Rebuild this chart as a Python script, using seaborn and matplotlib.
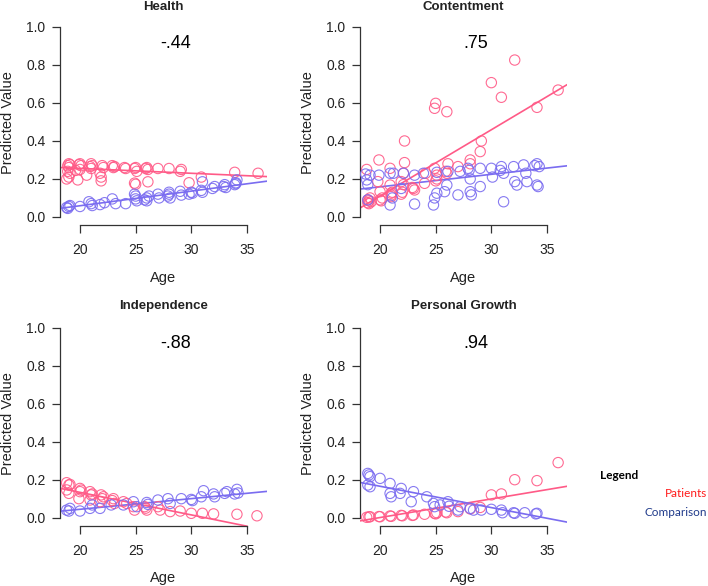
import matplotlib
matplotlib.use("Agg")
import matplotlib.pyplot as plt
import numpy as np
import pandas as pd
import seaborn as sns

# panel titles and the correlation printed in each
titles = ["Health", "Contentment", "Independence", "Personal Growth"]
corr_labels = ["-.44", ".75", "-.88", ".94"]

# regression lines (intercept, slope) per panel: patients / comparison
pat_b = [0.307, -0.588, 0.371, -0.195]
pat_m = [-0.00257, 0.0349, -0.01188, 0.00979]
cmp_b = [-0.095, 0.027, -0.068, 0.390]
cmp_m = [0.0077, 0.00658, 0.00561, -0.01123]

# Health
health_pat_age = [19.0, 18.9, 19.1, 19.0, 18.9, 19.1, 19.0, 18.8, 19.6, 20.0, 20.1, 19.9, 20.0, 19.8,
                  20.6, 21.0, 21.1, 20.9, 21.0, 21.8, 21.9, 22.0, 22.1, 21.9, 22.9, 23.1, 23.0, 24.0,
                  24.1, 25.0, 24.9, 25.1, 24.9, 25.0, 26.0, 26.1, 25.9, 26.1, 27.0, 28.0, 29.1, 29.0,
                  29.8, 30.9, 33.9, 36.0]
health_pat_val = [0.28, 0.27, 0.275, 0.26, 0.24, 0.23, 0.21, 0.20, 0.245, 0.28, 0.27, 0.275, 0.25, 0.195,
                  0.22, 0.28, 0.27, 0.265, 0.255, 0.23, 0.19, 0.27, 0.26, 0.21, 0.27, 0.265, 0.26, 0.26,
                  0.255, 0.26, 0.255, 0.24, 0.178, 0.172, 0.26, 0.25, 0.255, 0.185, 0.255, 0.255, 0.25, 0.24,
                  0.18, 0.21, 0.235, 0.23]
health_cmp_age = [18.8, 19.0, 19.1, 18.9, 20.0, 20.8, 21.0, 21.1, 21.8, 22.2, 22.9, 23.2, 24.1, 24.9,
                  25.0, 25.1, 25.0, 25.8, 26.0, 26.2, 26.0, 27.0, 27.1, 28.0, 27.9, 28.1, 28.0, 29.0,
                  29.1, 29.8, 30.0, 30.1, 30.9, 31.0, 31.0, 31.9, 32.1, 32.9, 33.0, 33.1, 33.9, 34.0,
                  34.1, 34.0]
health_cmp_val = [0.05, 0.055, 0.06, 0.045, 0.055, 0.08, 0.07, 0.06, 0.065, 0.075, 0.095, 0.07, 0.07, 0.12,
                  0.11, 0.085, 0.095, 0.09, 0.10, 0.11, 0.085, 0.12, 0.10, 0.13, 0.11, 0.10, 0.12, 0.135,
                  0.115, 0.12, 0.13, 0.125, 0.14, 0.13, 0.185, 0.15, 0.16, 0.16, 0.17, 0.155, 0.17, 0.18,
                  0.195, 0.175]

# Contentment
cont_pat_age = [18.8, 18.9, 19.0, 19.1, 19.2, 19.0, 18.9, 19.9, 19.8, 20.0, 20.0, 20.1, 20.2, 20.9,
                20.9, 21.0, 21.0, 21.1, 21.0, 22.2, 22.2, 22.1, 21.9, 22.1, 21.9, 22.0, 23.0, 23.1,
                22.9, 24.0, 24.1, 24.9, 25.0, 24.9, 25.1, 25.1, 25.0, 26.0, 26.0, 26.1, 25.9, 27.0,
                28.1, 28.1, 29.0, 29.1, 30.0, 30.9, 32.1, 34.1, 36.0]
cont_pat_val = [0.25, 0.09, 0.07, 0.10, 0.08, 0.085, 0.075, 0.30, 0.186, 0.133, 0.09, 0.085, 0.10, 0.256,
                0.168, 0.125, 0.107, 0.13, 0.115, 0.40, 0.286, 0.23, 0.186, 0.17, 0.12, 0.13, 0.15, 0.142,
                0.155, 0.177, 0.23, 0.572, 0.598, 0.256, 0.22, 0.20, 0.19, 0.554, 0.23, 0.28, 0.24, 0.265,
                0.30, 0.28, 0.344, 0.40, 0.707, 0.63, 0.826, 0.577, 0.668]
cont_cmp_age = [18.7, 18.8, 18.9, 19.1, 18.9, 19.9, 20.9, 20.9, 21.1, 21.2, 22.1, 21.9, 23.1, 23.1,
                23.9, 24.8, 24.9, 25.1, 25.1, 25.8, 26.0, 26.1, 27.0, 27.2, 27.9, 28.1, 28.1, 28.2,
                28.0, 29.0, 29.0, 30.0, 30.1, 30.9, 31.1, 31.1, 30.8, 32.0, 32.1, 32.3, 32.9, 33.1,
                33.2, 34.1, 34.1, 34.2, 34.3, 33.9]
cont_cmp_val = [0.226, 0.195, 0.17, 0.22, 0.09, 0.22, 0.23, 0.063, 0.10, 0.23, 0.23, 0.15, 0.22, 0.068,
                0.23, 0.063, 0.10, 0.125, 0.235, 0.133, 0.168, 0.24, 0.116, 0.24, 0.256, 0.133, 0.20, 0.116,
                0.245, 0.256, 0.16, 0.256, 0.21, 0.265, 0.23, 0.08, 0.245, 0.265, 0.186, 0.168, 0.274, 0.23,
                0.186, 0.28, 0.168, 0.16, 0.265, 0.27]

# Independence
ind_pat_age = [18.8, 19.0, 18.8, 19.0, 19.1, 20.0, 20.0, 19.9, 20.1, 20.9, 21.0, 20.9, 21.1, 21.9,
               22.0, 21.8, 22.1, 23.0, 23.1, 22.9, 23.9, 24.2, 24.8, 24.9, 25.8, 26.0, 25.9, 27.0,
               27.2, 28.1, 29.0, 30.0, 31.0, 32.0, 34.1, 35.9]
ind_pat_val = [0.184, 0.172, 0.146, 0.128, 0.175, 0.154, 0.137, 0.10, 0.145, 0.137, 0.12, 0.093, 0.125, 0.12,
               0.10, 0.084, 0.11, 0.10, 0.075, 0.09, 0.084, 0.075, 0.058, 0.04, 0.058, 0.04, 0.05, 0.058,
               0.04, 0.032, 0.035, 0.023, 0.023, 0.02, 0.018, 0.01]
ind_cmp_age = [18.8, 19.1, 19.0, 20.0, 20.9, 21.1, 21.8, 22.8, 23.9, 24.8, 25.1, 26.0, 26.1, 27.0,
               27.9, 28.1, 29.1, 30.0, 30.1, 30.9, 31.1, 32.0, 32.1, 33.0, 33.2, 34.1, 34.2, 33.9]
ind_cmp_val = [0.04, 0.049, 0.035, 0.035, 0.049, 0.067, 0.049, 0.067, 0.067, 0.084, 0.058, 0.08, 0.07, 0.093,
               0.10, 0.075, 0.10, 0.096, 0.09, 0.11, 0.142, 0.125, 0.11, 0.128, 0.137, 0.149, 0.13, 0.125]

# Personal Growth
pg_pat_age = [18.8, 19.1, 19.0, 20.0, 19.9, 20.9, 21.0, 21.9, 22.0, 23.0, 22.9, 24.0, 24.9, 25.1,
              25.0, 26.0, 25.9, 27.0, 28.1, 29.0, 30.0, 30.9, 32.1, 34.1, 36.0]
pg_pat_val = [0.002, 0.005, 0.004, 0.005, 0.006, 0.009, 0.007, 0.012, 0.010, 0.014, 0.012, 0.018, 0.023, 0.026,
              0.02, 0.026, 0.03, 0.032, 0.046, 0.054, 0.12, 0.125, 0.20, 0.195, 0.29]
pg_cmp_age = [18.9, 19.1, 18.9, 19.1, 19.0, 20.0, 20.9, 20.9, 21.0, 21.9, 21.8, 23.0, 22.8, 24.2,
              24.8, 24.9, 25.4, 26.1, 26.2, 27.0, 27.2, 28.1, 28.4, 29.1, 30.0, 30.9, 31.0, 32.0,
              32.1, 33.0, 34.1, 34.0]
pg_cmp_val = [0.233, 0.216, 0.172, 0.163, 0.225, 0.207, 0.18, 0.128, 0.11, 0.154, 0.128, 0.137, 0.084, 0.11,
              0.075, 0.058, 0.067, 0.084, 0.06, 0.04, 0.058, 0.049, 0.04, 0.04, 0.044, 0.04, 0.026, 0.026,
              0.023, 0.026, 0.023, 0.02]

pat_ages = [health_pat_age, cont_pat_age, ind_pat_age, pg_pat_age]
pat_vals = [health_pat_val, cont_pat_val, ind_pat_val, pg_pat_val]
cmp_ages = [health_cmp_age, cont_cmp_age, ind_cmp_age, pg_cmp_age]
cmp_vals = [health_cmp_val, cont_cmp_val, ind_cmp_val, pg_cmp_val]

PINK = "#ff5a87"
BLUE = "#7a6cf0"
TXT = "#222222"

sns.set_style("white")
plt.rcParams['font.family'] = ['Liberation Sans', 'DejaVu Sans']

fig = plt.figure(figsize=(7.08, 5.86), dpi=100)
lefts = [0.0847, 0.5085, 0.0847, 0.5085]
bottoms = [0.6152, 0.6152, 0.1020, 0.1020]
title_pads = [6.5, 6.5, 8.0, 8.0]

for i in range(4):
    ax = fig.add_axes([lefts[i], bottoms[i], 0.2924, 0.3517])
    ax.set_xlim(18.2, 36.8)
    ax.set_ylim(-0.045, 1.04)

    for ages, vals, col in [(pat_ages[i], pat_vals[i], PINK), (cmp_ages[i], cmp_vals[i], BLUE)]:
        df = pd.DataFrame({"age": ages, "val": vals})
        sns.scatterplot(data=df, x="age", y="val", ax=ax, marker="o", s=55,
                        facecolors="none", edgecolor=col, linewidth=0.8, alpha=0.9,
                        legend=False, zorder=3)

    ax.axline((0, pat_b[i]), slope=pat_m[i], color=PINK, lw=1.2, zorder=2)
    ax.axline((0, cmp_b[i]), slope=cmp_m[i], color=BLUE, lw=1.2, zorder=2)

    ax.text(28.6, 0.915, corr_labels[i], ha="center", va="center", fontsize=13, color="black")

    for s in ["top", "right"]:
        ax.spines[s].set_visible(False)
    ax.spines["left"].set_bounds(0, 1)
    ax.spines["bottom"].set_bounds(20, 35)
    for s in ["left", "bottom"]:
        ax.spines[s].set_color("#333333")
        ax.spines[s].set_linewidth(0.9)

    ax.set_xticks([20, 25, 30, 35])
    ax.set_yticks([0.0, 0.2, 0.4, 0.6, 0.8, 1.0])
    ax.set_yticklabels(["0.0", "0.2", "0.4", "0.6", "0.8", "1.0"])
    ax.tick_params(axis="both", direction="out", length=5.5, width=0.9, color="#333333",
                   labelsize=10, labelcolor=TXT, left=True, bottom=True)
    ax.tick_params(axis="x", pad=7)
    ax.tick_params(axis="y", pad=5)

    ax.set_xlabel("Age", fontsize=10.5, color=TXT, labelpad=10)
    ax.set_ylabel("Predicted Value", fontsize=10.5, color=TXT, labelpad=8)
    ax.set_title(titles[i], fontsize=9.5, fontweight="bold", color=TXT, pad=title_pads[i])
    ax.grid(False)

# legend text at the right
fig.text(0.848, 0.189, "Legend", fontsize=8.5, fontweight="bold", color="black",
         ha="left", va="center", family=["Lato", "DejaVu Sans"])
fig.text(0.999, 0.158, "Patients", fontsize=8.5, color="#ff1a1a",
         ha="right", va="center", family=["Lato", "DejaVu Sans"])
fig.text(0.999, 0.125, "Comparison", fontsize=8.5, color="#1f3a8a",
         ha="right", va="center", family=["Lato", "DejaVu Sans"])

fig.savefig("out.png", dpi=100)
